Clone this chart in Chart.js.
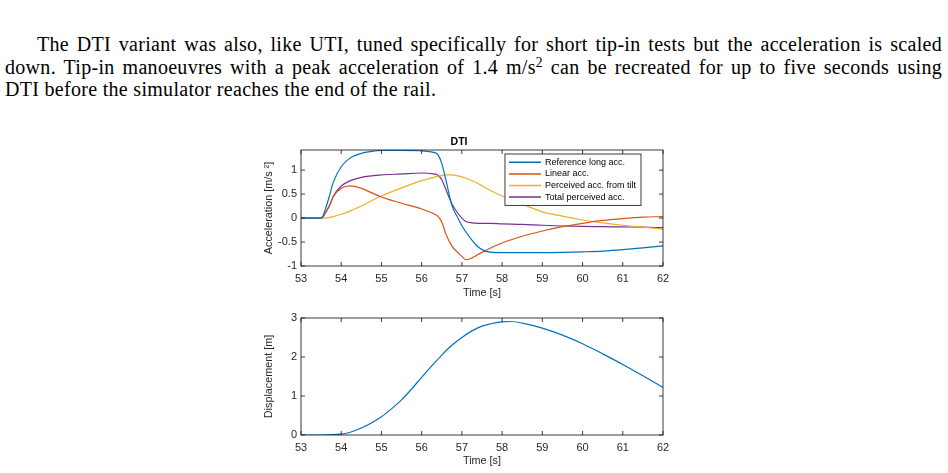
<!DOCTYPE html>
<html>
<head>
<meta charset="utf-8">
<script src="https://cdn.jsdelivr.net/npm/chart.js@4/dist/chart.umd.min.js"></script>
<style>
  html, body { margin: 0; padding: 0; background: #fff; width: 948px; height: 473px; overflow: hidden; }
  .para { position: absolute; left: 5px; top: 33px; width: 937px; font-family: "Liberation Serif", serif;
          font-size: 20px; line-height: 22.5px; color: #000; letter-spacing: 0.3px; }
  .para .j { text-align: justify; text-align-last: justify; }
  .para sup { font-size: 0.68em; line-height: 0; vertical-align: 0.55em; }
  canvas { position: absolute; }
</style>
</head>
<body>
<div class="para">
  <div class="j" style="padding-left:32px">The DTI variant was also, like UTI, tuned specifically for short tip-in tests but the acceleration is scaled</div>
  <div class="j">down. Tip-in manoeuvres with a peak acceleration of 1.4 m/s<sup>2</sup> can be recreated for up to five seconds using</div>
  <div>DTI before the simulator reaches the end of the rail.</div>
</div>
<canvas id="accChart" width="415" height="170" style="left:255px;top:130px"></canvas>
<canvas id="dispChart" width="415" height="167" style="left:255px;top:305px"></canvas>
<script>
// values
const timeS = [53, 53.5, 53.55, 53.6, 53.7, 53.8, 54, 54.2, 54.5, 54.75, 55, 55.5, 56, 56.3, 56.4, 56.5, 56.6, 56.75, 56.9, 57, 57.1, 57.25, 57.4, 57.55, 57.7, 58, 58.5, 59, 59.5, 60, 60.5, 61, 61.5, 62];
const refAcc = [0, 0, 0.05, 0.17, 0.44, 0.74, 1.07, 1.24, 1.35, 1.39, 1.41, 1.41, 1.40, 1.37, 1.33, 1.14, 0.8, 0.27, 0.0, -0.16, -0.29, -0.46, -0.6, -0.68, -0.71, -0.72, -0.72, -0.72, -0.715, -0.705, -0.69, -0.66, -0.62, -0.58];
const linAcc = [0, 0, 0.03, 0.1, 0.24, 0.44, 0.62, 0.67, 0.62, 0.53, 0.44, 0.31, 0.19, 0.09, 0.04, -0.08, -0.33, -0.58, -0.72, -0.8, -0.87, -0.83, -0.76, -0.69, -0.63, -0.52, -0.38, -0.27, -0.18, -0.11, -0.05, -0.01, 0.02, 0.03];
const tiltAcc = [0, 0, 0, 0, 0.01, 0.03, 0.08, 0.14, 0.25, 0.36, 0.46, 0.63, 0.78, 0.85, 0.87, 0.89, 0.9, 0.9, 0.88, 0.86, 0.83, 0.78, 0.72, 0.65, 0.58, 0.46, 0.29, 0.13, 0.04, -0.04, -0.1, -0.15, -0.19, -0.23];
const totalAcc = [0, 0, 0.03, 0.1, 0.25, 0.45, 0.67, 0.77, 0.85, 0.88, 0.9, 0.92, 0.94, 0.92, 0.9, 0.8, 0.6, 0.3, 0.1, 0.0, -0.07, -0.1, -0.11, -0.11, -0.11, -0.12, -0.13, -0.15, -0.165, -0.175, -0.18, -0.185, -0.19, -0.2];
const dispTime = [53, 53.5, 54, 54.5, 55, 55.25, 55.5, 55.75, 56, 56.25, 56.5, 56.75, 57, 57.25, 57.5, 58, 58.2, 58.5, 59, 59.5, 60, 60.5, 61, 61.5, 62];
const displacement = [0, 0, 0.02, 0.18, 0.47, 0.67, 0.9, 1.18, 1.48, 1.77, 2.05, 2.3, 2.5, 2.67, 2.79, 2.9, 2.91, 2.87, 2.74, 2.56, 2.34, 2.08, 1.81, 1.52, 1.22];
const timeTicks = [53, 54, 55, 56, 57, 58, 59, 60, 61, 62];
const accTicks = [-1, -0.5, 0, 0.5, 1];
const dispTicks = [0, 1, 2, 3];
const seriesNames = ['Reference long acc.', 'Linear acc.', 'Perceived acc. from tilt', 'Total perceived acc.'];

const COLORS = ['#0072BD', '#D95319', '#EDB120', '#7E2F8E'];
const AXIS = '#262626';
const SANS = '"Liberation Sans", Arial, sans-serif';

// matlab style box with inward ticks on all four sides
const matlabBox = {
  id: 'matlabBox',
  afterDatasetsDraw(chart) {
    const { ctx, chartArea: a, scales: { x, y } } = chart;
    ctx.save();
    ctx.strokeStyle = AXIS;
    ctx.lineWidth = 0.9;
    ctx.beginPath();
    x.ticks.forEach(t => {
      const px = x.getPixelForValue(t.value);
      ctx.moveTo(px, a.bottom); ctx.lineTo(px, a.bottom - 4);
      ctx.moveTo(px, a.top); ctx.lineTo(px, a.top + 4);
    });
    y.ticks.forEach(t => {
      const py = y.getPixelForValue(t.value);
      ctx.moveTo(a.left, py); ctx.lineTo(a.left + 4, py);
      ctx.moveTo(a.right, py); ctx.lineTo(a.right - 4, py);
    });
    ctx.stroke();
    ctx.strokeRect(a.left, a.top, a.right - a.left, a.bottom - a.top);
    ctx.restore();
  }
};

// legend drawn inside the axes, top right
const insideLegend = {
  id: 'insideLegend',
  afterDraw(chart) {
    const { ctx, chartArea: a } = chart;
    const ds = chart.data.datasets;
    ctx.save();
    ctx.font = '9px ' + SANS;
    const textW = Math.max(...ds.map(d => ctx.measureText(d.label).width));
    const rowH = 11.6, sample = 32;
    const w = 5 + sample + 3 + textW + 5;
    const h = ds.length * rowH + 5;
    const right = a.right - 22, left = right - w, top = a.top + 4;
    ctx.fillStyle = '#fff';
    ctx.fillRect(left, top, w, h);
    ctx.strokeStyle = AXIS;
    ctx.lineWidth = 0.9;
    ctx.strokeRect(left, top, w, h);
    ds.forEach((d, i) => {
      const cy = top + 8.3 + i * rowH;
      ctx.strokeStyle = d.borderColor;
      ctx.lineWidth = 1.5;
      ctx.beginPath();
      ctx.moveTo(left + 4, cy); ctx.lineTo(left + 4 + sample, cy);
      ctx.stroke();
      ctx.fillStyle = '#000';
      ctx.textBaseline = 'middle';
      ctx.fillText(d.label, left + 5 + sample + 3, cy);
    });
    ctx.restore();
  }
};

function xScale(height, titleBottom) {
  return {
    type: 'linear', min: 53, max: 62,
    afterBuildTicks: s => { s.ticks = timeTicks.map(v => ({ value: v })); },
    afterFit: s => { s.height = height; s.paddingLeft = 0; s.paddingRight = 0; },
    ticks: { font: { family: SANS, size: 11 }, color: AXIS, padding: 6, maxRotation: 0, autoSkip: false, callback: v => String(v) },
    grid: { drawOnChartArea: false, drawTicks: false },
    border: { display: false },
    title: { display: true, text: 'Time [s]', font: { family: SANS, size: 10.8 }, color: AXIS, padding: { top: 0, bottom: titleBottom } }
  };
}

function yScale(min, max, ticks, label) {
  return {
    type: 'linear', min: min, max: max,
    afterBuildTicks: s => { s.ticks = ticks.map(v => ({ value: v })); },
    afterFit: s => { s.width = 46; s.paddingTop = 0; s.paddingBottom = 0; },
    ticks: { font: { family: SANS, size: 11 }, color: AXIS, padding: 4, callback: v => String(v) },
    grid: { drawOnChartArea: false, drawTicks: false },
    border: { display: false },
    title: { display: true, text: label, font: { family: SANS, size: 10.8 }, color: AXIS, padding: { top: 7.5, bottom: 0 } }
  };
}

function lineSet(label, xs, ys, color) {
  return {
    label: label,
    data: xs.map((t, i) => ({ x: t, y: ys[i] })),
    borderColor: color, borderWidth: 1.2, pointRadius: 0,
    cubicInterpolationMode: 'monotone', fill: false
  };
}

new Chart(document.getElementById('accChart'), {
  type: 'line',
  data: {
    datasets: [
      lineSet(seriesNames[0], timeS, refAcc, COLORS[0]),
      lineSet(seriesNames[1], timeS, linAcc, COLORS[1]),
      lineSet(seriesNames[2], timeS, tiltAcc, COLORS[2]),
      lineSet(seriesNames[3], timeS, totalAcc, COLORS[3])
    ]
  },
  options: {
    responsive: false, animation: false,
    layout: { padding: { left: 0, right: 7, top: 0, bottom: 0 } },
    plugins: {
      legend: { display: false }, tooltip: { enabled: false },
      title: { display: true, text: 'DTI', color: '#000', font: { family: SANS, size: 10.5, weight: 'bold' }, padding: { top: 5.7, bottom: 1.7 } }
    },
    scales: { x: xScale(34, 0.5), y: yScale(-1, 1.42, accTicks, 'Acceleration [m/s ²]') }
  },
  plugins: [matlabBox, insideLegend]
});

new Chart(document.getElementById('dispChart'), {
  type: 'line',
  data: { datasets: [lineSet('Displacement', dispTime, displacement, COLORS[0])] },
  options: {
    responsive: false, animation: false,
    layout: { padding: { left: 0, right: 7, top: 13, bottom: 0 } },
    plugins: { legend: { display: false }, tooltip: { enabled: false } },
    scales: { x: xScale(37, 4.5), y: yScale(0, 3, dispTicks, 'Displacement [m]') }
  },
  plugins: [matlabBox]
});
</script>
</body>
</html>
